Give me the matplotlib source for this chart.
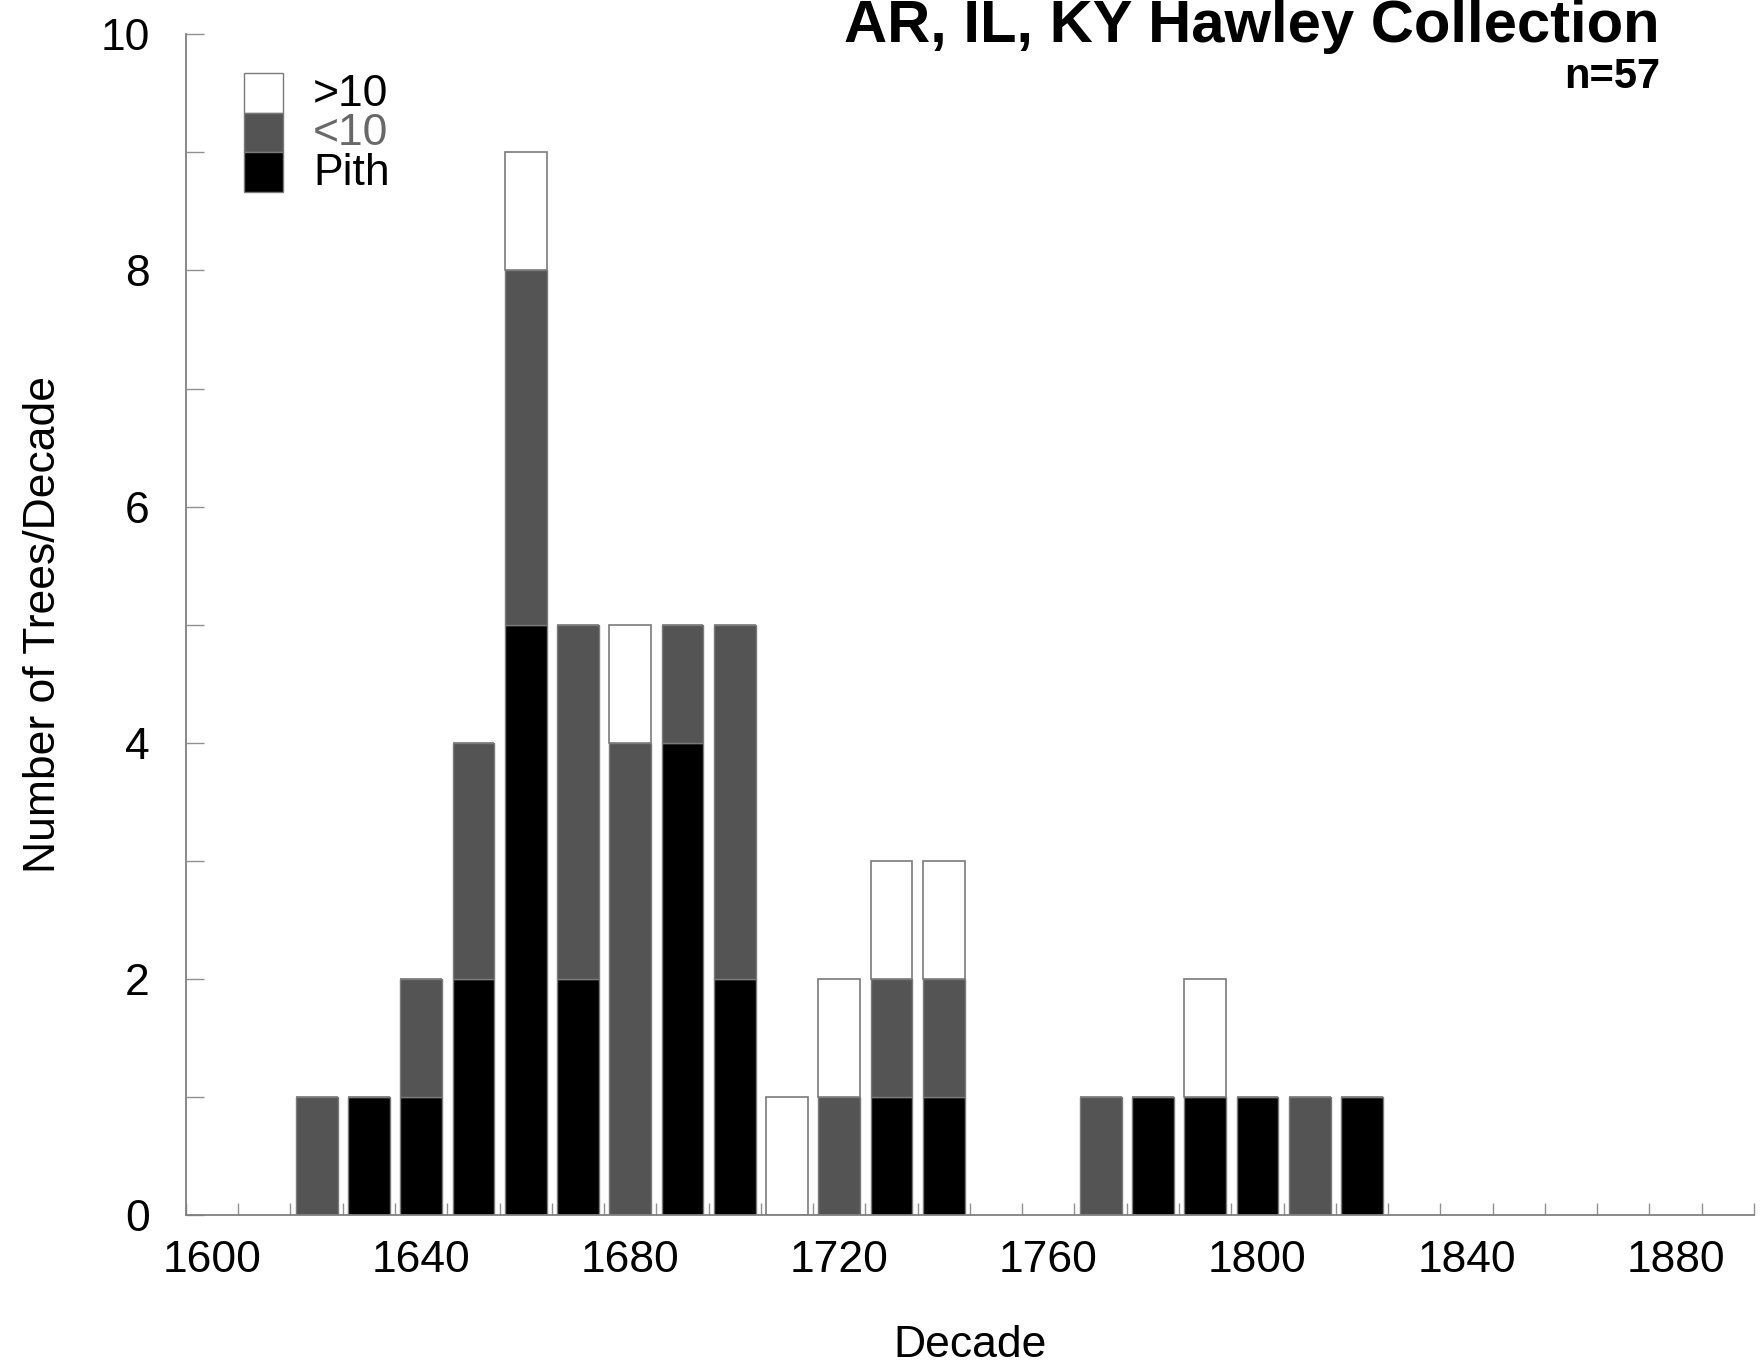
import matplotlib.pyplot as plt
from matplotlib.patches import Rectangle
import numpy as np

plt.rcParams['font.family'] = ['Liberation Sans', 'DejaVu Sans']

# tree counts per decade, split by how close the inner ring is to the pith
decades = [1620, 1630, 1640, 1650, 1660, 1670, 1680, 1690, 1700, 1710,
           1720, 1730, 1740, 1770, 1780, 1790, 1800, 1810, 1820]
pith = [0, 1, 1, 2, 5, 2, 0, 4, 2, 0, 0, 1, 1, 0, 1, 1, 1, 0, 1]
under10 = [1, 0, 1, 2, 3, 3, 4, 1, 3, 0, 1, 1, 1, 1, 0, 0, 0, 1, 0]
over10 = [0, 0, 0, 0, 1, 0, 1, 0, 0, 1, 1, 1, 1, 0, 0, 1, 0, 0, 0]

xticks = [1600, 1640, 1680, 1720, 1760, 1800, 1840, 1880]
yticks = [0, 2, 4, 6, 8, 10]

title = "AR, IL, KY Hawley Collection"
subtitle = "n=57"

GRAY = '#545454'
EDGE = '#7a7a7a'

fig = plt.figure(figsize=(17.61, 13.70), dpi=100)
ax = fig.add_axes([0.1056, 0.113, 0.8904, 0.862])

pith = np.array(pith)
under10 = np.array(under10)
over10 = np.array(over10)
w = 8.0
ax.bar(decades, pith, width=w, color='black', edgecolor=EDGE, linewidth=1)
ax.bar(decades, under10, width=w, bottom=pith, color=GRAY, edgecolor=EDGE, linewidth=1)
ax.bar(decades, over10, width=w, bottom=pith + under10, color='white', edgecolor=EDGE, linewidth=1.2)

ax.set_xlim(1595, 1895)
ax.set_ylim(0, 10)

for s in ['top', 'right']:
    ax.spines[s].set_visible(False)
for s in ['left', 'bottom']:
    ax.spines[s].set_color('#808080')
    ax.spines[s].set_linewidth(1.3)

ax.set_xticks(xticks)
ax.set_xticks(np.arange(1595, 1896, 10), minor=True)
ax.set_yticks(yticks)
ax.set_yticks(np.arange(1, 10, 2), minor=True)
ax.tick_params(axis='x', which='major', length=0, pad=18, labelsize=32)
ax.tick_params(axis='x', which='minor', direction='in', length=9, width=1, color='#909090')
ax.tick_params(axis='y', which='both', direction='in', length=13, width=1, color='#909090',
               pad=26, labelsize=32)

ax.set_xlabel('Decade', fontsize=32)
ax.xaxis.set_label_coords(0.5, -0.093)
ax.set_ylabel('Number of Trees/Decade', fontsize=32)
ax.yaxis.set_label_coords(-0.078, 0.5)

# stacked legend swatches in the upper left
legend_rows = [('>10', 'white', 'black'), ('<10', GRAY, '#686868'), ('Pith', 'black', 'black')]
top = 0.967
h = 0.0335
for i, (lab, fc, tc) in enumerate(legend_rows):
    y0 = top - (i + 1) * h
    ax.add_patch(Rectangle((0.037, y0), 0.0249, h, transform=ax.transAxes,
                           facecolor=fc, edgecolor=EDGE, linewidth=1, clip_on=False))
    ax.text(0.081, y0 + h / 2 - 0.001, lab, transform=ax.transAxes, fontsize=32,
            color=tc, va='center', ha='left')

fig.text(0.9427, 0.969, title, fontsize=43, fontweight='bold', ha='right', va='baseline')
fig.text(0.9427, 0.936, subtitle, fontsize=30, fontweight='bold', ha='right', va='baseline')

fig.savefig('out.png', dpi=100, facecolor='white')
